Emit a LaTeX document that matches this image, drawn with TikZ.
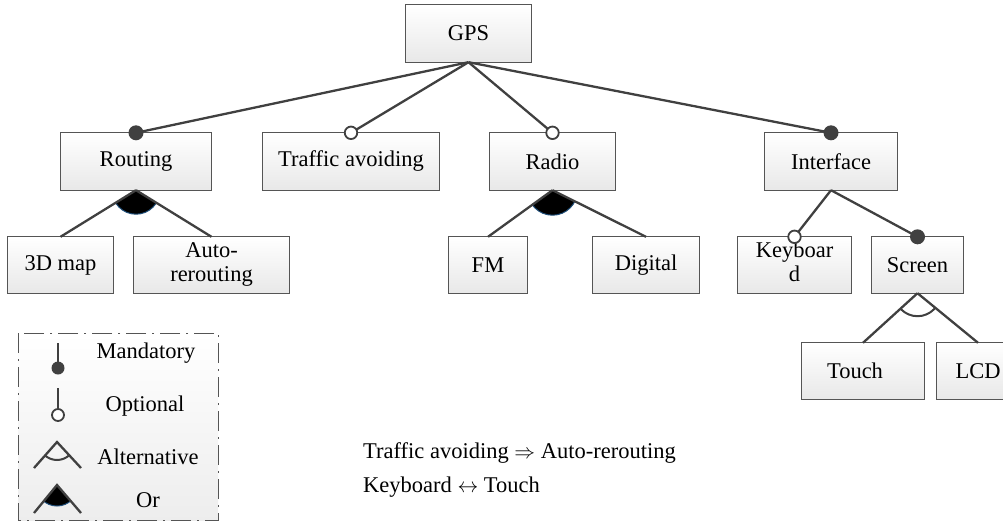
\documentclass[tikz,border=0pt]{standalone}
\usepackage{fontspec}
\setmainfont{Liberation Serif}
\pgfdeclarelayer{bg}
\pgfsetlayers{bg,main}
\newcommand{\twoline}[2]{\begin{tabular}{@{}c@{}}#1\\#2\end{tabular}}
\begin{document}
\begin{tikzpicture}[x=1pt,y=-1pt,
  font=\fontsize{22.5}{23.5}\selectfont,
  fbox/.style={rectangle, minimum height=57pt, inner sep=0pt},
  lbl/.style={anchor=center},
  boxshade/.style={top color=white, bottom color=gray!18, draw=none},
  boxline/.style={draw={rgb,255:red,85;green,85;blue,85}, line width=0.9pt},
  conn/.style={draw={rgb,255:red,64;green,64;blue,64}, line width=2.3pt},
  mand/.style={circle, fill={rgb,255:red,64;green,64;blue,64}, inner sep=0pt, minimum size=15pt},
  opt/.style={circle, draw={rgb,255:red,64;green,64;blue,64}, fill=white, line width=1.8pt, inner sep=0pt, minimum size=12.5pt},
  altarc/.style={draw={rgb,255:red,64;green,64;blue,64}, line width=2pt},
  orfill/.style={fill=black},
  orline/.style={draw={rgb,255:red,31;green,78;blue,121}, line width=1pt},
  legtext/.style={anchor=center},
  plain/.style={anchor=base west, inner sep=0pt}
]
\useasboundingbox (0,0) rectangle (1003,525);

% box shapes (empty), then their labels
\node[fbox, minimum width=125pt] (gps) at (468.5,33.5) {};
\node[fbox, minimum width=150pt] (routing) at (136,161.5) {};
\node[fbox, minimum width=176pt] (traffic) at (351,161.5) {};
\node[fbox, minimum width=125pt] (radio) at (552.5,161.5) {};
\node[fbox, minimum width=132pt] (interface) at (831,161.5) {};
\node[fbox, minimum width=105pt, minimum height=56pt] (map) at (60.5,265) {};
\node[fbox, minimum width=155pt, minimum height=56pt] (auto) at (211.5,265) {};
\node[fbox, minimum width=78pt, minimum height=56pt] (fm) at (488,265) {};
\node[fbox, minimum width=106pt, minimum height=56pt] (digital) at (646,265) {};
\node[fbox, minimum width=113pt, minimum height=56pt] (keyboard) at (794.5,265) {};
\node[fbox, minimum width=91pt, minimum height=56pt] (screen) at (917.5,265) {};
\node[fbox, minimum width=122pt, minimum height=56pt] (touch) at (863,371) {};
\node[fbox, minimum width=82pt, minimum height=56pt] (lcd) at (978,371) {};

\node[lbl] (tgps) at (gps) {GPS};
\node[lbl] (trouting) at (routing) {Routing};
\node[lbl] (ttraffic) at (traffic) {Traffic avoiding};
\node[lbl] (tradio) at (radio) {Radio};
\node[lbl] (tinterface) at (interface) {Interface};
\node[lbl] (tmap) at (map) {3D map};
\node[lbl] (tauto) at (auto) {\twoline{Auto-}{rerouting}};
\node[lbl] (tfm) at (fm) {FM};
\node[lbl] (tdigital) at (digital) {Digital};
\node[lbl] (tkeyboard) at (keyboard) {\twoline{Keyboar}{d}};
\node[lbl] (tscreen) at (screen) {Screen};
\node[lbl] (ttouch) at ([xshift=-8pt]touch.center) {Touch};
\node[lbl] (tlcd) at (lcd) {LCD};

% box gradients and borders, behind everything
\begin{pgfonlayer}{bg}
  \foreach \n in {gps,routing,traffic,radio,interface,map,auto,fm,digital,keyboard,screen,touch,lcd}{
    \shade[boxshade] (\n.south west) rectangle (\n.north east);
    \draw[boxline] (\n.south west) rectangle (\n.north east);
  }
  \shade[boxshade, bottom color=gray!14] (18,333) rectangle (218,520);
\end{pgfonlayer}

% or / alternative wedges
\begin{scope}
  \clip (routing.south) -- (map.north) -- (auto.north) -- cycle;
  \fill[orfill] (routing.south) circle[radius=24pt];
  \draw[orline] (routing.south) circle[radius=24pt];
\end{scope}
\begin{scope}
  \clip (radio.south) -- (fm.north) -- (digital.north) -- cycle;
  \fill[orfill] (radio.south) circle[radius=25pt];
  \draw[orline] (radio.south) circle[radius=25pt];
\end{scope}
\begin{scope}
  \clip (screen.south) -- (touch.north) -- (lcd.north) -- cycle;
  \draw[altarc] (screen.south) circle[radius=23pt];
\end{scope}

% connectors
\draw[conn] (gps.south) -- (routing.north);
\draw[conn] (gps.south) -- (traffic.north);
\draw[conn] (gps.south) -- (radio.north);
\draw[conn] (gps.south) -- (interface.north);
\draw[conn] (routing.south) -- (map.north);
\draw[conn] (routing.south) -- (auto.north);
\draw[conn] (radio.south) -- (fm.north);
\draw[conn] (radio.south) -- (digital.north);
\draw[conn] (interface.south) -- (keyboard.north);
\draw[conn] (interface.south) -- (screen.north);
\draw[conn] (screen.south) -- (touch.north);
\draw[conn] (screen.south) -- (lcd.north);

% markers
\node[mand] (m1) at (routing.north) {};
\node[opt] (o1) at (traffic.north) {};
\node[opt] (o2) at (radio.north) {};
\node[mand] (m2) at (interface.north) {};
\node[opt] (o3) at (keyboard.north) {};
\node[mand] (m3) at (screen.north) {};

% legend
\draw[draw={rgb,255:red,85;green,85;blue,85}, line width=1pt, dash pattern=on 20pt off 6pt on 2pt off 6pt] (18,333) rectangle (218,520);
\coordinate (lm1) at (58,343);
\coordinate (lm2) at (58,368);
\draw[conn] (lm1) -- (lm2);
\node[mand, minimum size=13pt] (lm) at (lm2) {};
\node[legtext] (tm) at (146,353) {Mandatory};
\coordinate (lo1) at (58,388);
\coordinate (lo2) at (58,415);
\draw[conn] (lo1) -- (lo2);
\node[opt, minimum size=12pt] (lo) at (lo2) {};
\node[legtext] (to) at (145,406) {Optional};
\coordinate (la) at (57,442);
\coordinate (la1) at (34,468);
\coordinate (la2) at (81,468);
\begin{scope}
  \clip (la) -- (la1) -- (la2) -- cycle;
  \draw[altarc] (la) circle[radius=18pt];
\end{scope}
\draw[conn] (la1) -- (la) -- (la2);
\node[legtext] (ta) at (148,457) {Alternative};
\coordinate (lr) at (57,485);
\coordinate (lr1) at (34,513);
\coordinate (lr2) at (81,513);
\begin{scope}
  \clip (lr) -- (lr1) -- (lr2) -- cycle;
  \fill[orfill] (lr) circle[radius=21pt];
  \draw[orline] (lr) circle[radius=21pt];
\end{scope}
\draw[conn] (lr1) -- (lr) -- (lr2);
\node[legtext] (tr) at (148,500) {Or};

% constraints
\node[plain] (c1) at (363,458) {Traffic avoiding $\Rightarrow$ Auto-rerouting};
\node[plain] (c2) at (363,492) {Keyboard $\leftrightarrow$ Touch};
\end{tikzpicture}
\end{document}
